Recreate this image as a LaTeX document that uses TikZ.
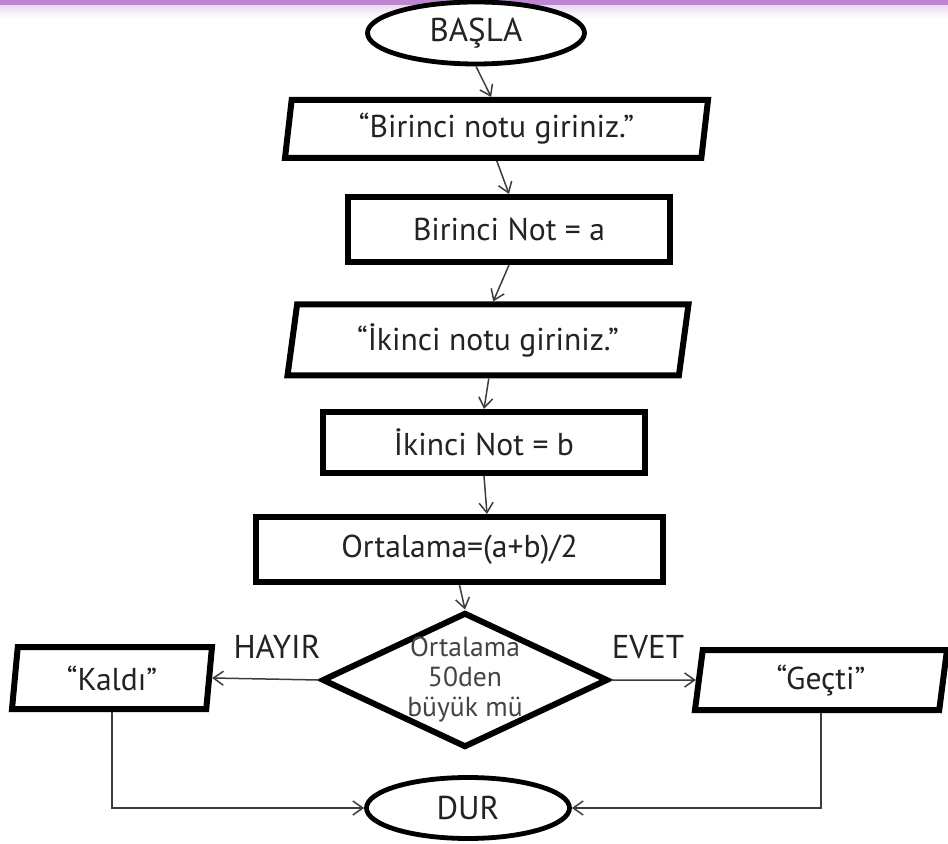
\documentclass[tikz,border=0pt]{standalone}
\usepackage{fontspec}
\setmainfont{PT Sans}
\usetikzlibrary{positioning, calc, shapes.geometric, arrows.meta}

\begin{document}
\begin{tikzpicture}[x=0.5pt, y=-0.5pt, font=\fontsize{15.8pt}{17pt}\selectfont, align=center, >={Straight Barb[length=5pt,width=7pt]}]
        % Define colors
        \definecolor{menekse}{RGB}{192,132,212}
        \definecolor{acikmenekse}{RGB}{238,218,244}
        \definecolor{yazi}{RGB}{35,35,35}
        \definecolor{cizgi}{RGB}{60,60,60}

        % Styles
        \tikzset{
            uc/.style={draw, ellipse, fill=white, line width=2.4pt, text=yazi, inner sep=0pt, font=\fontsize{16.5pt}{18pt}\selectfont},
            islem/.style={draw, rectangle, fill=white, line width=3pt, text=yazi, inner sep=0pt},
            giris/.style={draw, trapezium, trapezium left angle=77, trapezium right angle=103, trapezium stretches body, fill=white, line width=3pt, text=yazi, inner sep=0pt},
            kararbox/.style={draw, diamond, line width=3pt, inner sep=0pt},
            etiket/.style={text=yazi, font=\fontsize{16.5pt}{18pt}\selectfont},
            baglanti/.style={->, line width=0.75pt, draw=cizgi}
        }

        \useasboundingbox (0,0) rectangle (948,844);

        % Top band
        \fill[menekse] (0,0) rectangle (948,6);
        \shade[top color=acikmenekse, bottom color=white] (0,6) rectangle (948,18);

        % Nodes
        \node[uc, minimum width=108.5pt, minimum height=31pt] (basla) at (476,33) {BAŞLA};
        \node[giris, trapezium left angle=78, trapezium right angle=102, minimum width=211.5pt, minimum height=29pt] (giris1) at (496.5,129) {“Birinci notu giriniz.”};
        \node[islem, minimum width=161pt, minimum height=32.5pt] (not1) at (509,229.5) {Birinci Not = a};
        \node[giris, trapezium left angle=74, trapezium right angle=106, minimum width=200.5pt, minimum height=35.5pt] (giris2) at (488,340) {“İkinci notu giriniz.”};
        \node[islem, minimum width=161pt, minimum height=30.5pt] (not2) at (484,442.5) {İkinci Not = b};
        \node[islem, minimum width=203.5pt, minimum height=32.5pt] (ortalama) at (459.5,549.5) {Ortalama=(a+b)/2};
        \node[kararbox, minimum width=143pt, minimum height=67.5pt] (karar) at (465,680) {};
        \node[text=yazi!85, font=\fontsize{13.8pt}{15pt}\selectfont] (soru) at (karar.center) {Ortalama\\50den\\büyük mü};
        \node[giris, minimum width=100pt, minimum height=31pt] (kaldi) at (112,678) {“Kaldı”};
        \node[giris, trapezium left angle=76, trapezium right angle=104, minimum width=126pt, minimum height=30pt] (gecti) at (821,680) {“Geçti”};
        \node[uc, minimum width=101.5pt, minimum height=30.5pt] (dur) at (468,808) {DUR};

        \node[etiket] (hayir) at (277,647) {HAYIR};
        \node[etiket] (evet) at (648,647) {EVET};

        % Edges
        \draw[baglanti] (basla.south) -- ($(giris1.top side)+(-9,0)$);
        \draw[baglanti] ($(giris1.bottom side)+(4,0)$) -- (not1.north);
        \draw[baglanti] (not1.south) -- (giris2.top side);
        \draw[baglanti] ($(giris2.bottom side)+(6,0)$) -- (not2.north);
        \draw[baglanti] (not2.south) -- ($(not2.south |- ortalama.north)+(3,0)$);
        \draw[baglanti] (ortalama.south) -- (karar.north);
        \draw[baglanti] (karar.west) -- (kaldi.east);
        \draw[baglanti] (karar.east) -- (gecti.west);
        \draw[baglanti] (kaldi.south) |- (dur.west);
        \draw[baglanti] (gecti.south) |- (dur.east);
    \end{tikzpicture}
\end{document}
